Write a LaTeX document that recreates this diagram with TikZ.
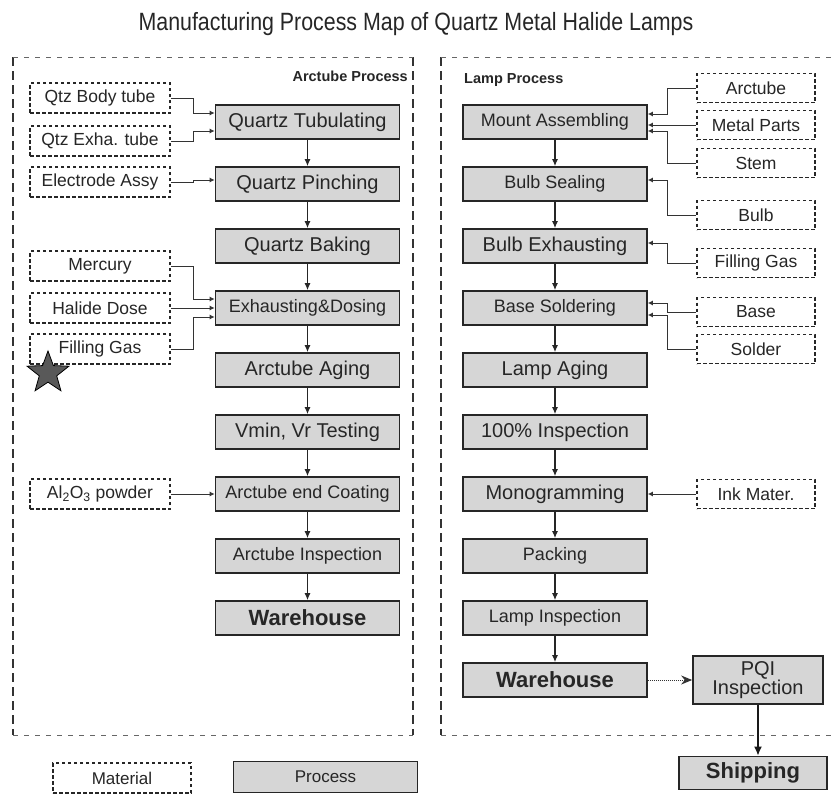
\documentclass[tikz,border=0pt]{standalone}
\usepackage{fontspec}
\setmainfont{Liberation Sans}
\usetikzlibrary{arrows.meta,shapes.geometric,calc}
\newcommand{\fsz}[1]{\fontsize{#1}{#1}\selectfont}
\begin{document}
\begin{tikzpicture}[x=1pt,y=-1pt,
  proc/.style={draw=black!85, line width=1.7pt, fill=black!16, minimum width=184pt, minimum height=34pt, inner sep=0pt, text=black!85},
  pbig/.style={proc, font=\fsz{20}},
  psm/.style={proc, font=\fsz{18}},
  pbold/.style={proc, font=\fsz{22}\bfseries},
  mat/.style={draw=black!85, dash pattern=on 3.5pt off 2.5pt, line width=1.7pt, fill=white, minimum height=30pt, inner sep=0pt, font=\fsz{17.5}, text=black!85},
  lmat/.style={mat, minimum width=140pt},
  rmat/.style={mat, minimum width=118pt, minimum height=29pt},
  flow/.style={draw=black!85, line width=1.1pt, -{Latex[length=7pt,width=6pt]}},
  feed/.style={draw=black!80, line width=0.9pt, -{Latex[length=5pt,width=5pt]}},
  vframe/.style={draw=black!80, line width=1.5pt, dash pattern=on 9pt off 5pt},
  hframe/.style={draw=black!60, line width=0.9pt, dash pattern=on 5pt off 6pt},
  tag/.style={font=\fsz{14.5}\bfseries, text=black!85, inner sep=0pt}
]
\useasboundingbox (0,0) rectangle (833,795);

% title
\node[font=\fsz{25}, text=black!85] (title) at (416,24) {\scalebox{0.855}[1]{Manufacturing Process Map of Quartz Metal Halide Lamps}};

% frames
\draw[vframe] (13,57) -- (13,735);
\draw[vframe] (413,57) -- (413,735);
\draw[hframe] (13,57) -- (413,57);
\draw[hframe] (13,735) -- (413,735);
\draw[vframe] (441,57) -- (441,735);
\draw[hframe] (441,57) -- (833,57);
\draw[hframe] (441,735) -- (833,735);

\node[tag, anchor=east] (arclab) at (408,76) {Arctube Process};
\node[tag, anchor=west] (lamplab) at (464,80) {Lamp Process};

% left column processes
\node[pbig] (tub) at (307.5,122) {Quartz Tubulating};
\node[pbig] (pin) at (307.5,184) {Quartz Pinching};
\node[pbig] (bak) at (307.5,246) {Quartz Baking};
\node[psm] (exd) at (307.5,308) {Exhausting\&Dosing};
\node[pbig] (aag) at (307.5,370) {Arctube Aging};
\node[pbig] (vmt) at (307.5,432) {Vmin, Vr Testing};
\node[psm] (eco) at (307.5,494) {Arctube end Coating};
\node[psm] (ains) at (307.5,556) {Arctube Inspection};
\node[pbold] (lwh) at (307.5,618) {Warehouse};

% left materials
\node[lmat] (qbt) at (100,98) {Qtz Body tube};
\node[lmat] (qet) at (100,141) {Qtz Exha. tube};
\node[lmat] (ela) at (100,182) {Electrode Assy};
\node[lmat] (mer) at (100,266) {Mercury};
\node[lmat] (hal) at (100,308) {Halide Dose};
\node[lmat] (fga) at (100,349) {Filling Gas};
\node[lmat] (alo) at (100,494) {Al\textsubscript{2}O\textsubscript{3} powder};

\node[star, star points=5, star point ratio=2.4, fill=black!65, draw=black, line width=0.8pt, minimum size=44pt, inner sep=0pt] (star) at (48,373) {};

% right column processes
\node[psm] (mas) at (555,122) {Mount Assembling};
\node[psm] (bse) at (555,184) {Bulb Sealing};
\node[pbig] (bex) at (555,246) {Bulb Exhausting};
\node[psm] (bso) at (555,308) {Base Soldering};
\node[pbig] (lag) at (555,370) {Lamp Aging};
\node[pbig] (ins) at (555,432) {100\% Inspection};
\node[pbig] (mon) at (555,494) {Monogramming};
\node[psm] (pac) at (555,556) {Packing};
\node[psm] (lin) at (555,618) {Lamp Inspection};
\node[pbold] (rwh) at (555,680) {Warehouse};
\node[proc, font=\fsz{20}, minimum width=130pt, minimum height=48pt, align=center] (pqi) at (758,680) {PQI\\[-1pt]Inspection};
\node[pbold, minimum width=148pt, minimum height=33pt] (ship) at (753,773) {Shipping};

% right materials
\node[rmat] (arc) at (756,88) {Arctube};
\node[rmat] (mpa) at (756,125) {Metal Parts};
\node[rmat] (ste) at (756,163) {Stem};
\node[rmat] (blb) at (756,215) {Bulb};
\node[rmat] (fgr) at (756,263) {Filling Gas};
\node[rmat] (bas) at (756,312) {Base};
\node[rmat] (sol) at (756,349) {Solder};
\node[rmat] (ink) at (756,494) {Ink Mater.};

% legend
\node[lmat, minimum width=138pt, font=\fsz{17}] (legm) at (122,778) {Material};
\node[proc, font=\fsz{17}, minimum height=31pt] (legp) at (325.5,777) {Process};

% process flow arrows
\foreach \a/\b in {tub/pin,pin/bak,bak/exd,exd/aag,aag/vmt,vmt/eco,eco/ains,ains/lwh,
                   mas/bse,bse/bex,bex/bso,bso/lag,lag/ins,ins/mon,mon/pac,pac/lin,lin/rwh}
  \draw[flow] (\a.south) -- (\b.north);

% left feeds
\draw[feed] (qbt.east) -- ++(23,0) |- ($(tub.west)+(0,-9)$);
\draw[feed] (qet.east) -- ++(23,0) |- ($(tub.west)+(0,9)$);
\draw[feed] (ela.east) -- ++(23,0) |- ($(pin.west)+(0,-4)$);
\draw[feed] (mer.east) -- ++(23,0) |- ($(exd.west)+(0,-9)$);
\draw[feed] (hal.east) -- (hal.east -| exd.west);
\draw[feed] (fga.east) -- ++(23,0) |- ($(exd.west)+(0,9)$);
\draw[feed] (alo.east) -- (alo.east -| eco.west);

% right feeds
\draw[feed] (arc.west) -- ++(-29,0) |- ($(mas.east)+(0,-8)$);
\draw[feed] (mpa.west) -- (mpa.west -| mas.east);
\draw[feed] (ste.west) -- ++(-29,0) |- ($(mas.east)+(0,9)$);
\draw[feed] (blb.west) -- ++(-29,0) |- ($(bse.east)+(0,-4)$);
\draw[feed] (fgr.west) -- ++(-29,0) |- ($(bex.east)+(0,-3)$);
\draw[feed] (bas.west) -- ++(-29,0) |- ($(bso.east)+(0,-5)$);
\draw[feed] (sol.west) -- ++(-29,0) |- ($(bso.east)+(0,7)$);
\draw[feed] (ink.west) -- (ink.west -| mon.east);

% warehouse to PQI to shipping
\draw[draw=black!80, line width=1pt, densely dotted, -{Stealth[length=11pt,width=9pt]}] (rwh.east) -- (rwh.east -| pqi.west);
\draw[draw=black!90, line width=1.6pt, -{Latex[length=9pt,width=8pt]}] (pqi.south) -- (pqi.south |- ship.north);
\end{tikzpicture}
\end{document}
